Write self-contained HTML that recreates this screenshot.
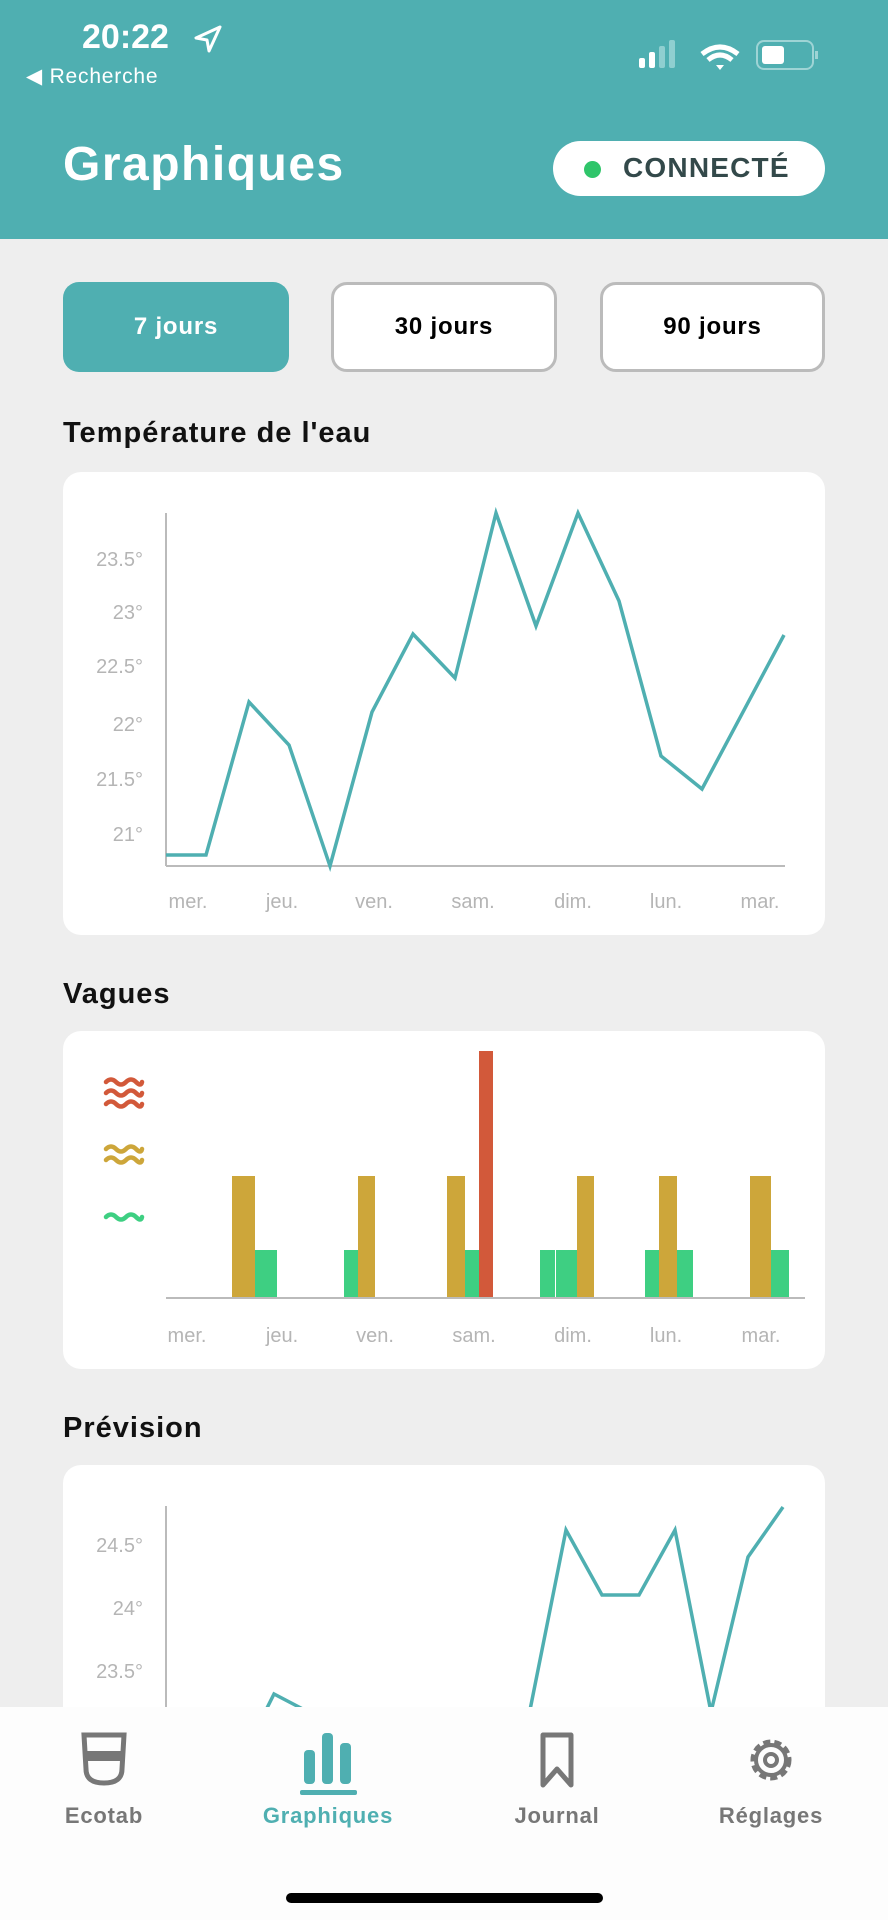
<!DOCTYPE html>
<html><head><meta charset="utf-8"><style>
*{margin:0;padding:0;box-sizing:border-box}
body{width:888px;height:1920px;background:#eeeeee;font-family:"Liberation Sans",sans-serif;position:relative;overflow:hidden}
.abs{position:absolute}
.hdr{left:0;top:0;width:888px;height:239px;background:#4fafb1}
.card{background:#fff;border-radius:18px;position:absolute;left:63px;width:762px}
.btn{position:absolute;top:282px;height:90px;border-radius:16px;font-weight:bold;font-size:24px;letter-spacing:0.8px;display:flex;align-items:center;justify-content:center}
.sec{position:absolute;left:63px;font-size:29px;letter-spacing:1px;font-weight:bold;color:#111}
svg text{font-family:"Liberation Sans",sans-serif}
</style></head><body>
<div class="abs hdr"></div>
<div class="abs" style="left:82px;top:18px;color:#fff;font-size:34px;font-weight:bold">20:22</div>
<svg class="abs" style="left:192px;top:24px" width="32" height="30"><path d="M28 3 L4 14 L15 16 L17 27 Z" fill="none" stroke="#fff" stroke-width="3" stroke-linejoin="round"/></svg>
<div class="abs" style="left:26px;top:64px;color:#fff;font-size:21px;letter-spacing:0.8px">◀ Recherche</div>
<svg class="abs" style="left:636px;top:38px" width="190" height="36">
<rect x="3" y="20" width="6" height="10" rx="2" fill="#fff"/><rect x="13" y="14" width="6" height="16" rx="2" fill="#fff"/>
<rect x="23" y="8" width="6" height="22" rx="2" fill="#8fcfd0"/><rect x="33" y="2" width="6" height="28" rx="2" fill="#8fcfd0"/>
<path d="M66 16 Q84 2 102 16" stroke="#fff" stroke-width="5" fill="none"/><path d="M72 22 Q84 12 96 22" stroke="#fff" stroke-width="5" fill="none"/><path d="M80 27 L84 32 L88 27 Z" fill="#fff"/>
<rect x="121" y="3" width="56" height="28" rx="7" fill="none" stroke="#9ed4d5" stroke-width="2"/><rect x="126" y="8" width="22" height="18" rx="3" fill="#fff"/><rect x="179" y="13" width="3" height="8" fill="#9ed4d5"/>
</svg>
<div class="abs" style="left:63px;top:137px;color:#fff;font-size:48px;letter-spacing:1.5px;font-weight:bold">Graphiques</div>
<div class="abs" style="left:553px;top:141px;width:272px;height:55px;background:#fff;border-radius:28px"></div>
<div class="abs" style="left:584px;top:161px;width:17px;height:17px;border-radius:50%;background:#2fc56a"></div>
<div class="abs" style="left:623px;top:152px;color:#33494a;font-size:28px;letter-spacing:1.2px;font-weight:bold">CONNECTÉ</div>

<div class="btn" style="left:63px;width:226px;background:#4fafb1;color:#fff">7 jours</div>
<div class="btn" style="left:331px;width:226px;background:#fff;border:3px solid #bbb;color:#000">30 jours</div>
<div class="btn" style="left:600px;width:225px;background:#fff;border:3px solid #bbb;color:#000">90 jours</div>

<div class="sec" style="top:417px">Température de l'eau</div>
<div class="card" style="top:472px;height:463px"></div>
<svg class="abs" style="left:0;top:0" width="888" height="1920">
<g fill="#b5b5b5" font-size="20" text-anchor="end">
<text x="143" y="566">23.5°</text><text x="143" y="619">23°</text><text x="143" y="673">22.5°</text>
<text x="143" y="731">22°</text><text x="143" y="786">21.5°</text><text x="143" y="841">21°</text>
</g>
<line x1="166" y1="513" x2="166" y2="866" stroke="#bbb" stroke-width="2"/>
<line x1="166" y1="866" x2="785" y2="866" stroke="#bbb" stroke-width="2"/>
<polyline fill="none" stroke="#4fafb1" stroke-width="3.5" stroke-linejoin="miter" points="166,855 206,855 249,702 289,745 330,866 372,712 413,634 455,678 496,513 536,626 578,513 619,601 661,756 702,789 784,635"/>
<g fill="#b5b5b5" font-size="20" text-anchor="middle">
<text x="188" y="908">mer.</text><text x="282" y="908">jeu.</text><text x="374" y="908">ven.</text><text x="473" y="908">sam.</text><text x="573" y="908">dim.</text><text x="666" y="908">lun.</text><text x="760" y="908">mar.</text>
</g>
</svg>

<div class="sec" style="top:978px">Vagues</div>
<div class="card" style="top:1031px;height:338px"></div>
<svg class="abs" style="left:0;top:0" width="888" height="1920">
<g fill="none" stroke-width="4.5" stroke-linecap="round">
<g stroke="#d2593a"><path d="M106 1082 q5 -5 10 0 t10 0 t10 0 t6 0"/><path d="M106 1093 q5 -5 10 0 t10 0 t10 0 t6 0"/><path d="M106 1104 q5 -5 10 0 t10 0 t10 0 t6 0"/></g>
<g stroke="#cda63a"><path d="M106 1149 q5 -5 10 0 t10 0 t10 0 t6 0"/><path d="M106 1160 q5 -5 10 0 t10 0 t10 0 t6 0"/></g>
<g stroke="#3ecf82"><path d="M106 1217 q5 -5 10 0 t10 0 t10 0 t6 0"/></g>
</g>
<g fill="#cda63a">
<rect x="232" y="1176" width="23" height="122"/><rect x="358" y="1176" width="17" height="122"/><rect x="447" y="1176" width="18" height="122"/>
<rect x="577" y="1176" width="17" height="122"/><rect x="659" y="1176" width="18" height="122"/><rect x="750" y="1176" width="21" height="122"/>
</g>
<g fill="#3ecf82">
<rect x="255" y="1250" width="22" height="48"/><rect x="344" y="1250" width="14" height="48"/><rect x="465" y="1250" width="14" height="48"/>
<rect x="540" y="1250" width="15" height="48"/><rect x="556" y="1250" width="21" height="48"/><rect x="645" y="1250" width="14" height="48"/>
<rect x="677" y="1250" width="16" height="48"/><rect x="771" y="1250" width="18" height="48"/>
</g>
<rect x="479" y="1051" width="14" height="247" fill="#d2593a"/>
<line x1="166" y1="1298" x2="805" y2="1298" stroke="#bbb" stroke-width="2"/>
<g fill="#b5b5b5" font-size="20" text-anchor="middle">
<text x="187" y="1342">mer.</text><text x="282" y="1342">jeu.</text><text x="375" y="1342">ven.</text><text x="474" y="1342">sam.</text><text x="573" y="1342">dim.</text><text x="666" y="1342">lun.</text><text x="761" y="1342">mar.</text>
</g>
</svg>

<div class="sec" style="top:1412px">Prévision</div>
<div class="card" style="top:1465px;height:300px"></div>
<svg class="abs" style="left:0;top:0" width="888" height="1920">
<g fill="#b5b5b5" font-size="20" text-anchor="end">
<text x="143" y="1552">24.5°</text><text x="143" y="1615">24°</text><text x="143" y="1678">23.5°</text>
</g>
<line x1="166" y1="1506" x2="166" y2="1710" stroke="#bbb" stroke-width="2"/>
<polyline fill="none" stroke="#4fafb1" stroke-width="3.5" points="266,1710 274,1694 318,1717"/>
<polyline fill="none" stroke="#4fafb1" stroke-width="3.5" points="528,1720 566,1530 602,1595 639,1595 675,1530 711,1712 748,1557 783,1507"/>
</svg>

<div class="abs" style="left:0;top:1707px;width:888px;height:213px;background:#fdfdfd"></div>
<svg class="abs" style="left:0;top:1707px" width="888" height="213">
<g fill="none" stroke="#777" stroke-width="5">
<path d="M84 28 L124 28 L122 62 Q122 76 104 76 Q86 76 86 62 Z"/>
</g>
<rect x="86" y="44" width="36" height="10" fill="#777"/>
<g fill="#4fafb1"><rect x="304" y="43" width="11" height="34" rx="4"/><rect x="322" y="26" width="11" height="51" rx="4"/><rect x="340" y="36" width="11" height="41" rx="4"/><rect x="300" y="83" width="57" height="5" rx="2"/></g>
<path d="M543 28 L571 28 L571 78 L557 62 L543 78 Z" fill="none" stroke="#777" stroke-width="5" stroke-linejoin="round"/>
<circle cx="771" cy="53" r="18" fill="none" stroke="#777" stroke-width="5" stroke-dasharray="7 4"/>
<circle cx="771" cy="53" r="15" fill="none" stroke="#777" stroke-width="4"/>
<circle cx="771" cy="53" r="6" fill="none" stroke="#777" stroke-width="4"/>
<g font-size="22" font-weight="bold" text-anchor="middle" fill="#777" letter-spacing="0.8">
<text x="104" y="116">Ecotab</text><text x="328" y="116" fill="#4fafb1">Graphiques</text><text x="557" y="116">Journal</text><text x="771" y="116">Réglages</text>
</g>
<rect x="286" y="186" width="317" height="10" rx="5" fill="#000"/>
</svg>
</body></html>
